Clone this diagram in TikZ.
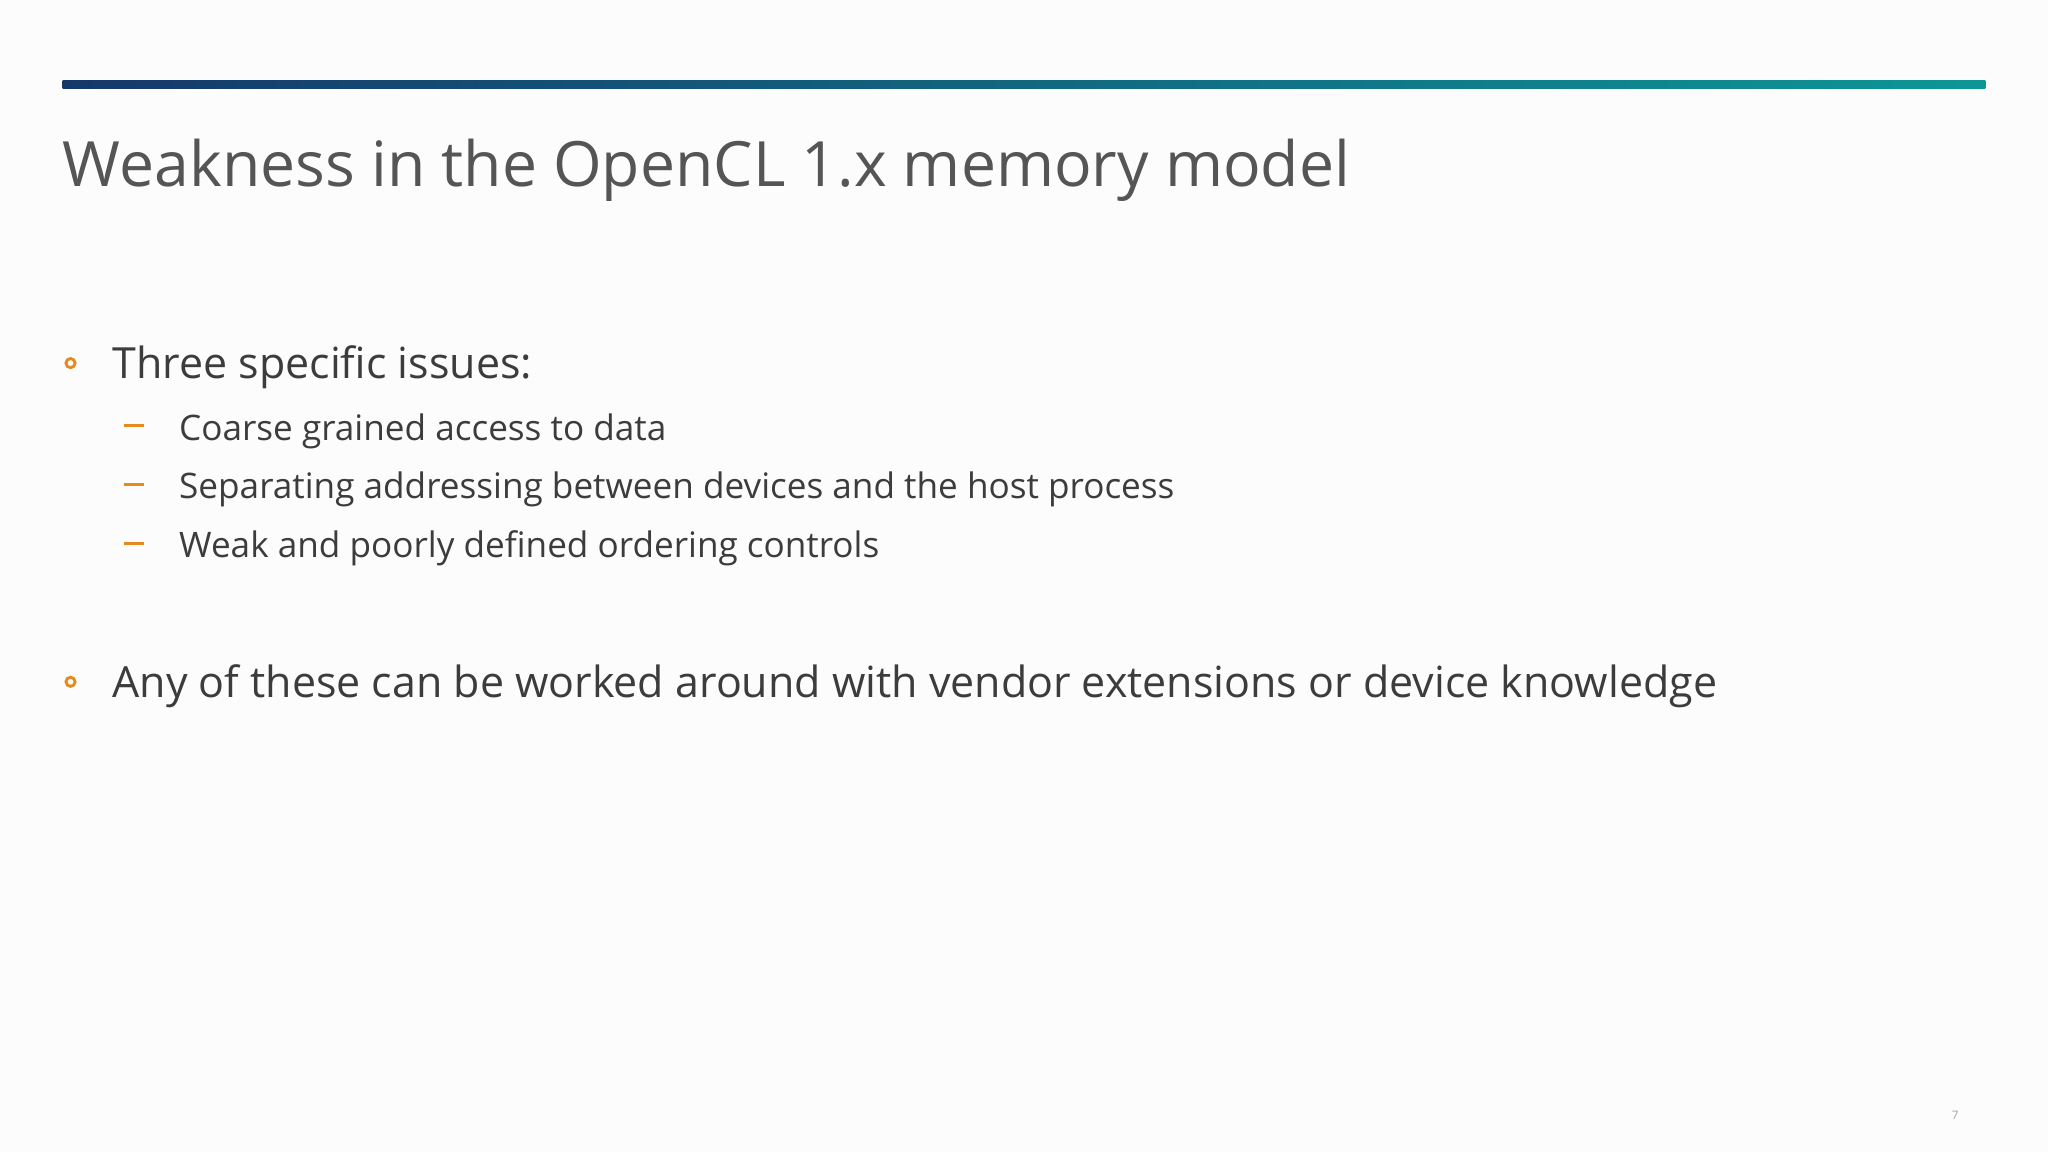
\documentclass[tikz,border=0pt]{standalone}
\usepackage{fontspec}
\setmainfont{Open Sans}
\usetikzlibrary{shapes.geometric}
\definecolor{titlegray}{HTML}{555555}
\definecolor{textgray}{HTML}{3C3C3C}
\definecolor{bulletorange}{HTML}{E8891C}
\definecolor{barblue}{HTML}{15386A}
\definecolor{barteal}{HTML}{0E9696}
\tikzset{
  title/.style={anchor=base west,inner sep=0,text=titlegray,font=\fontsize{48}{56}\selectfont},
  lvlone/.style={anchor=base west,inner sep=0,text=textgray,font=\fontsize{33}{40}\selectfont},
  lvltwo/.style={anchor=base west,inner sep=0,text=textgray,font=\fontsize{27}{32}\selectfont},
  bulletdot/.style={circle,draw=bulletorange,line width=2.2bp,minimum size=7bp,inner sep=0},
  dashmark/.style={draw=bulletorange,line width=2.5bp},
}
\begin{document}
\begin{tikzpicture}[x=1bp,y=-1bp]
\useasboundingbox[fill=white!98!gray] (0,0) rectangle (1568,882);
\shade[left color=barblue,right color=barteal] (48,62) rectangle (1520,68);
\node[title] (t) at (48,143) {Weakness in the OpenCL 1.x memory model};
\node[bulletdot] (b1) at (54,278) {};
\node[lvlone] (l1) at (86,290) {Three specific issues:};
\coordinate (d1a) at (95,326); \coordinate (d1b) at (110,326);
\coordinate (d2a) at (95,371); \coordinate (d2b) at (110,371);
\coordinate (d3a) at (95,416); \coordinate (d3b) at (110,416);
\draw[dashmark] (d1a) -- (d1b);
\draw[dashmark] (d2a) -- (d2b);
\draw[dashmark] (d3a) -- (d3b);
\node[lvltwo] (s1) at (137,337) {Coarse grained access to data};
\node[lvltwo] (s2) at (137,382) {Separating addressing between devices and the host process};
\node[lvltwo] (s3) at (137,427) {Weak and poorly defined ordering controls};
\node[bulletdot] (b2) at (54,522) {};
\node[lvlone] (l2) at (86,534) {Any of these can be worked around with vendor extensions or device knowledge};
\node[anchor=base,inner sep=0,text=gray!70,font=\fontsize{9}{10}\selectfont] (pg) at (1497,857) {7};
\end{tikzpicture}
\end{document}
